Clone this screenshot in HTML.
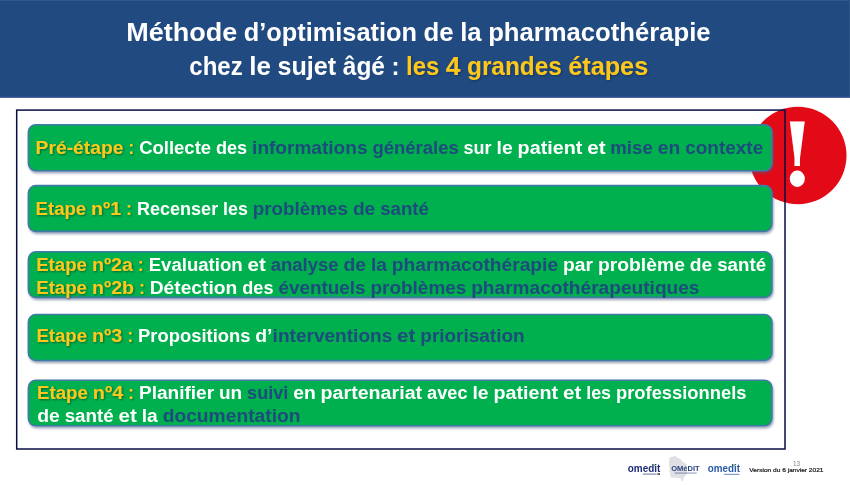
<!DOCTYPE html>
<html lang="fr">
<head>
<meta charset="utf-8">
<title>Méthode d’optimisation de la pharmacothérapie chez le sujet âgé</title>
<style>
html,body{margin:0;padding:0;background:#fff;}
body{width:850px;height:485px;overflow:hidden;position:relative;}
svg{position:absolute;left:0;top:0;display:block;}
text{font-family:"Liberation Sans",sans-serif;font-weight:bold;}
.ys{filter:url(#tsh);}
.yt{filter:url(#tsh2);}
.ft text{font-weight:normal;}
.ft .b{font-weight:bold;}
</style>
</head>
<body>
<svg width="850" height="485" viewBox="0 0 850 485">
<defs>
<filter id="bsh" x="-2%" y="-20%" width="104%" height="140%">
<feGaussianBlur in="SourceAlpha" stdDeviation="1.1"/>
<feOffset dx="1.3" dy="1.6" result="o"/>
<feFlood flood-color="#4A5580" flood-opacity="0.5"/>
<feComposite in2="o" operator="in"/>
<feMerge><feMergeNode/><feMergeNode in="SourceGraphic"/></feMerge>
</filter>
<filter id="tsh2" x="-5%" y="-20%" width="110%" height="150%">
<feGaussianBlur in="SourceAlpha" stdDeviation="0.8"/>
<feOffset dx="0.8" dy="0.9"/>
<feComponentTransfer><feFuncA type="linear" slope="0.3"/></feComponentTransfer>
<feMerge><feMergeNode/><feMergeNode in="SourceGraphic"/></feMerge>
</filter>
<filter id="tsh" x="-5%" y="-20%" width="110%" height="150%">
<feGaussianBlur in="SourceAlpha" stdDeviation="0.8"/>
<feOffset dx="0.9" dy="1"/>
<feComponentTransfer><feFuncA type="linear" slope="0.45"/></feComponentTransfer>
<feMerge><feMergeNode/><feMergeNode in="SourceGraphic"/></feMerge>
</filter>
</defs>
<!-- header -->
<rect x="0" y="0" width="850" height="97.6" fill="#204A80"/>
<rect x="0" y="96.1" width="850" height="1.5" fill="#2E4F93"/>
<rect x="0" y="0" width="850" height="1" fill="#32598E"/>
<rect x="849" y="0" width="1" height="97" fill="#2C5489"/>
<!-- warning circle -->
<circle cx="797.8" cy="155.5" r="48.7" fill="#E30A17"/>
<text id="bang" transform="translate(779.4 186.1) scale(0.926 1)" x="0" y="0" fill="#fff" font-size="87.6" style="font-family:'DejaVu Serif','Liberation Serif',serif">!</text>
<!-- frame -->
<rect x="16.7" y="110.1" width="768.3" height="338.9" fill="none" stroke="#080E42" stroke-width="1.5"/>
<!-- green boxes -->
<g fill="#00B050" stroke="#3F7AA5" stroke-width="1.6" filter="url(#bsh)">
<rect x="28.4" y="124.7" width="743.5" height="46.1" rx="7.5" ry="7.5"/>
<rect x="28.4" y="185.6" width="743.5" height="45.8" rx="7.5" ry="7.5"/>
<rect x="28.4" y="251.8" width="743.5" height="45.6" rx="7.5" ry="7.5"/>
<rect x="28.4" y="314.5" width="743.5" height="46.0" rx="7.5" ry="7.5"/>
<rect x="28.4" y="380.2" width="743.5" height="45.6" rx="7.5" ry="7.5"/>
</g>
<!-- title -->
<text y="41.0" font-size="25.2" fill="#FFFFFF"><tspan x="126.3" textLength="111.0" lengthAdjust="spacingAndGlyphs">Méthode</tspan> <tspan x="243.8" textLength="173.2" lengthAdjust="spacingAndGlyphs">d’optimisation</tspan> <tspan x="423.6" textLength="30.1" lengthAdjust="spacingAndGlyphs">de</tspan> <tspan x="460.2" textLength="21.4" lengthAdjust="spacingAndGlyphs">la</tspan> <tspan x="488.2" textLength="222.4" lengthAdjust="spacingAndGlyphs">pharmacothérapie</tspan></text>
<text y="74.9" font-size="25.2" fill="#FFFFFF"><tspan x="189.3" textLength="53.4" lengthAdjust="spacingAndGlyphs">chez</tspan> <tspan x="249.2" textLength="21.7" lengthAdjust="spacingAndGlyphs">le</tspan> <tspan x="277.4" textLength="58.8" lengthAdjust="spacingAndGlyphs">sujet</tspan> <tspan x="342.8" textLength="42.2" lengthAdjust="spacingAndGlyphs">âgé</tspan> <tspan x="391.5" textLength="8.0" lengthAdjust="spacingAndGlyphs">:</tspan></text>
<text y="74.9" font-size="25.2" fill="#FDC71C" class="yt"><tspan x="406.1" textLength="33.2" lengthAdjust="spacingAndGlyphs">les</tspan> <tspan x="445.8" textLength="14.7" lengthAdjust="spacingAndGlyphs">4</tspan> <tspan x="467.0" textLength="94.8" lengthAdjust="spacingAndGlyphs">grandes</tspan> <tspan x="568.2" textLength="80.0" lengthAdjust="spacingAndGlyphs">étapes</tspan></text>
<!-- steps -->
<text y="154.2" font-size="18.9" fill="#FDC71C" class="ys"><tspan x="35.6" textLength="87.8" lengthAdjust="spacingAndGlyphs">Pré-étape</tspan> <tspan x="128.3" textLength="6.0" lengthAdjust="spacingAndGlyphs">:</tspan></text>
<text y="154.2" font-size="18.9" fill="#FFFFFF"><tspan x="139.2" textLength="71.9" lengthAdjust="spacingAndGlyphs">Collecte</tspan> <tspan x="216.0" textLength="31.2" lengthAdjust="spacingAndGlyphs">des</tspan></text>
<text y="154.2" font-size="18.9" fill="#1D4C7C"><tspan x="252.1" textLength="115.4" lengthAdjust="spacingAndGlyphs">informations</tspan> <tspan x="372.4" textLength="86.3" lengthAdjust="spacingAndGlyphs">générales</tspan></text>
<text y="154.2" font-size="18.9" fill="#FFFFFF"><tspan x="463.6" textLength="28.0" lengthAdjust="spacingAndGlyphs">sur</tspan> <tspan x="496.5" textLength="16.2" lengthAdjust="spacingAndGlyphs">le</tspan> <tspan x="517.6" textLength="64.7" lengthAdjust="spacingAndGlyphs">patient</tspan> <tspan x="587.2" textLength="18.3" lengthAdjust="spacingAndGlyphs">et</tspan></text>
<text y="154.2" font-size="18.9" fill="#1D4C7C"><tspan x="610.3" textLength="42.5" lengthAdjust="spacingAndGlyphs">mise</tspan> <tspan x="657.8" textLength="22.5" lengthAdjust="spacingAndGlyphs">en</tspan> <tspan x="685.2" textLength="78.0" lengthAdjust="spacingAndGlyphs">contexte</tspan></text>
<text y="214.5" font-size="18.9" fill="#FDC71C" class="ys"><tspan x="35.6" textLength="50.6" lengthAdjust="spacingAndGlyphs">Etape</tspan> <tspan x="91.0" textLength="30.2" lengthAdjust="spacingAndGlyphs">nº1</tspan> <tspan x="126.1" textLength="6.0" lengthAdjust="spacingAndGlyphs">:</tspan></text>
<text y="214.5" font-size="18.9" fill="#FFFFFF"><tspan x="136.9" textLength="81.3" lengthAdjust="spacingAndGlyphs">Recenser</tspan> <tspan x="223.1" textLength="24.8" lengthAdjust="spacingAndGlyphs">les</tspan></text>
<text y="214.5" font-size="18.9" fill="#1D4C7C"><tspan x="252.7" textLength="95.3" lengthAdjust="spacingAndGlyphs">problèmes</tspan> <tspan x="352.9" textLength="22.4" lengthAdjust="spacingAndGlyphs">de</tspan> <tspan x="380.2" textLength="48.7" lengthAdjust="spacingAndGlyphs">santé</tspan></text>
<text y="270.7" font-size="18.9" fill="#FDC71C" class="ys"><tspan x="36.2" textLength="50.7" lengthAdjust="spacingAndGlyphs">Etape</tspan> <tspan x="91.9" textLength="41.0" lengthAdjust="spacingAndGlyphs">nº2a</tspan> <tspan x="137.8" textLength="6.0" lengthAdjust="spacingAndGlyphs">:</tspan></text>
<text y="270.7" font-size="18.9" fill="#FFFFFF"><tspan x="148.7" textLength="94.0" lengthAdjust="spacingAndGlyphs">Evaluation</tspan> <tspan x="247.5" textLength="18.2" lengthAdjust="spacingAndGlyphs">et</tspan></text>
<text y="270.7" font-size="18.9" fill="#1D4C7C"><tspan x="270.7" textLength="68.0" lengthAdjust="spacingAndGlyphs">analyse</tspan> <tspan x="343.5" textLength="22.5" lengthAdjust="spacingAndGlyphs">de</tspan> <tspan x="370.9" textLength="16.0" lengthAdjust="spacingAndGlyphs">la</tspan> <tspan x="391.8" textLength="166.3" lengthAdjust="spacingAndGlyphs">pharmacothérapie</tspan></text>
<text y="270.7" font-size="18.9" fill="#FFFFFF"><tspan x="563.0" textLength="30.0" lengthAdjust="spacingAndGlyphs">par</tspan> <tspan x="597.9" textLength="87.0" lengthAdjust="spacingAndGlyphs">problème</tspan> <tspan x="689.8" textLength="22.5" lengthAdjust="spacingAndGlyphs">de</tspan> <tspan x="717.2" textLength="48.9" lengthAdjust="spacingAndGlyphs">santé</tspan></text>
<text y="293.9" font-size="18.9" fill="#FDC71C" class="ys"><tspan x="36.2" textLength="50.8" lengthAdjust="spacingAndGlyphs">Etape</tspan> <tspan x="92.0" textLength="42.0" lengthAdjust="spacingAndGlyphs">nº2b</tspan> <tspan x="138.9" textLength="6.0" lengthAdjust="spacingAndGlyphs">:</tspan></text>
<text y="293.9" font-size="18.9" fill="#FFFFFF"><tspan x="149.7" textLength="87.6" lengthAdjust="spacingAndGlyphs">Détection</tspan> <tspan x="242.3" textLength="31.2" lengthAdjust="spacingAndGlyphs">des</tspan></text>
<text y="293.9" font-size="18.9" fill="#1D4C7C"><tspan x="278.4" textLength="87.2" lengthAdjust="spacingAndGlyphs">éventuels</tspan> <tspan x="370.5" textLength="95.8" lengthAdjust="spacingAndGlyphs">problèmes</tspan> <tspan x="471.2" textLength="228.3" lengthAdjust="spacingAndGlyphs">pharmacothérapeutiques</tspan></text>
<text y="341.9" font-size="18.9" fill="#FDC71C" class="ys"><tspan x="36.4" textLength="50.7" lengthAdjust="spacingAndGlyphs">Etape</tspan> <tspan x="92.0" textLength="30.3" lengthAdjust="spacingAndGlyphs">nº3</tspan> <tspan x="127.2" textLength="6.0" lengthAdjust="spacingAndGlyphs">:</tspan></text>
<text y="341.9" font-size="18.9" fill="#FFFFFF"><tspan x="138.1" textLength="112.4" lengthAdjust="spacingAndGlyphs">Propositions</tspan> <tspan x="255.3" textLength="17.2" lengthAdjust="spacingAndGlyphs">d’</tspan></text>
<text y="341.9" font-size="18.9" fill="#1D4C7C"><tspan x="272.6" textLength="119.7" lengthAdjust="spacingAndGlyphs">interventions</tspan> <tspan x="397.1" textLength="18.3" lengthAdjust="spacingAndGlyphs">et</tspan> <tspan x="420.3" textLength="104.3" lengthAdjust="spacingAndGlyphs">priorisation</tspan></text>
<text y="398.8" font-size="18.9" fill="#FDC71C" class="ys"><tspan x="37.1" textLength="50.8" lengthAdjust="spacingAndGlyphs">Etape</tspan> <tspan x="92.8" textLength="30.4" lengthAdjust="spacingAndGlyphs">nº4</tspan> <tspan x="128.1" textLength="6.0" lengthAdjust="spacingAndGlyphs">:</tspan></text>
<text y="398.8" font-size="18.9" fill="#FFFFFF"><tspan x="139.0" textLength="75.1" lengthAdjust="spacingAndGlyphs">Planifier</tspan> <tspan x="219.0" textLength="23.2" lengthAdjust="spacingAndGlyphs">un</tspan></text>
<text y="398.8" font-size="18.9" fill="#1D4C7C"><tspan x="247.1" textLength="41.2" lengthAdjust="spacingAndGlyphs">suivi</tspan></text>
<text y="398.8" font-size="18.9" fill="#FFFFFF"><tspan x="293.2" textLength="22.5" lengthAdjust="spacingAndGlyphs">en</tspan> <tspan x="320.6" textLength="101.5" lengthAdjust="spacingAndGlyphs">partenariat</tspan> <tspan x="427.1" textLength="40.4" lengthAdjust="spacingAndGlyphs">avec</tspan> <tspan x="472.4" textLength="16.2" lengthAdjust="spacingAndGlyphs">le</tspan> <tspan x="493.5" textLength="64.6" lengthAdjust="spacingAndGlyphs">patient</tspan> <tspan x="563.0" textLength="18.3" lengthAdjust="spacingAndGlyphs">et</tspan> <tspan x="586.2" textLength="24.9" lengthAdjust="spacingAndGlyphs">les</tspan> <tspan x="616.0" textLength="130.5" lengthAdjust="spacingAndGlyphs">professionnels</tspan></text>
<text y="421.9" font-size="18.9" fill="#FFFFFF"><tspan x="37.2" textLength="22.6" lengthAdjust="spacingAndGlyphs">de</tspan> <tspan x="64.7" textLength="49.0" lengthAdjust="spacingAndGlyphs">santé</tspan> <tspan x="118.5" textLength="18.3" lengthAdjust="spacingAndGlyphs">et</tspan> <tspan x="141.7" textLength="16.0" lengthAdjust="spacingAndGlyphs">la</tspan></text>
<text y="421.9" font-size="18.9" fill="#1D4C7C"><tspan x="162.7" textLength="137.8" lengthAdjust="spacingAndGlyphs">documentation</tspan></text>
<!-- footer -->
<g class="ft">
<path d="M669.4 457.2 L675.5 456.1 L677.7 457.9 L680.2 458.7 L682.4 461.5 L686.7 464.4 L687.1 473.8 L683.8 477.4 L683.1 481 L681.3 480.7 L680.6 478.1 L670.8 477.4 L669.7 471.6 L669 464.4 Z" fill="#DFE0E3"/>
<text class="b" x="627.8" y="471.6" font-size="10.3" fill="#1F2C7A" textLength="32.6" lengthAdjust="spacingAndGlyphs">omedit</text>
<circle cx="654.3" cy="465.4" r="0.9" fill="#7DB93B"/>
<rect x="643" y="473.5" width="13.6" height="1.2" fill="#1F2C7A" opacity="0.55"/>
<rect x="657.4" y="473.3" width="2.6" height="1.6" fill="#111" opacity="0.8"/>
<text class="b" x="671.2" y="470.6" font-size="7.7" fill="#2A3F7D" textLength="28.5" lengthAdjust="spacingAndGlyphs">OMéDIT</text>
<rect x="674.8" y="472.5" width="22" height="1.1" fill="#2A3F7D" opacity="0.5"/>
<text class="b" x="707.8" y="471.6" font-size="10.3" fill="#2B5BA7" textLength="32.2" lengthAdjust="spacingAndGlyphs">omedit</text>
<circle cx="734" cy="465.4" r="0.9" fill="#7DB93B"/>
<rect x="723.9" y="473.8" width="15.5" height="1.2" fill="#2B5BA7" opacity="0.6"/>
<text x="792.9" y="465.5" font-size="6.6" fill="#858585" textLength="7.1" lengthAdjust="spacingAndGlyphs">13</text>
<text x="749.3" y="471.9" font-size="6.2" fill="#151515" stroke="#151515" stroke-width="0.2" textLength="74.2" lengthAdjust="spacingAndGlyphs">Version du 6 janvier 2021</text>
</g>
</svg>
</body>
</html>
